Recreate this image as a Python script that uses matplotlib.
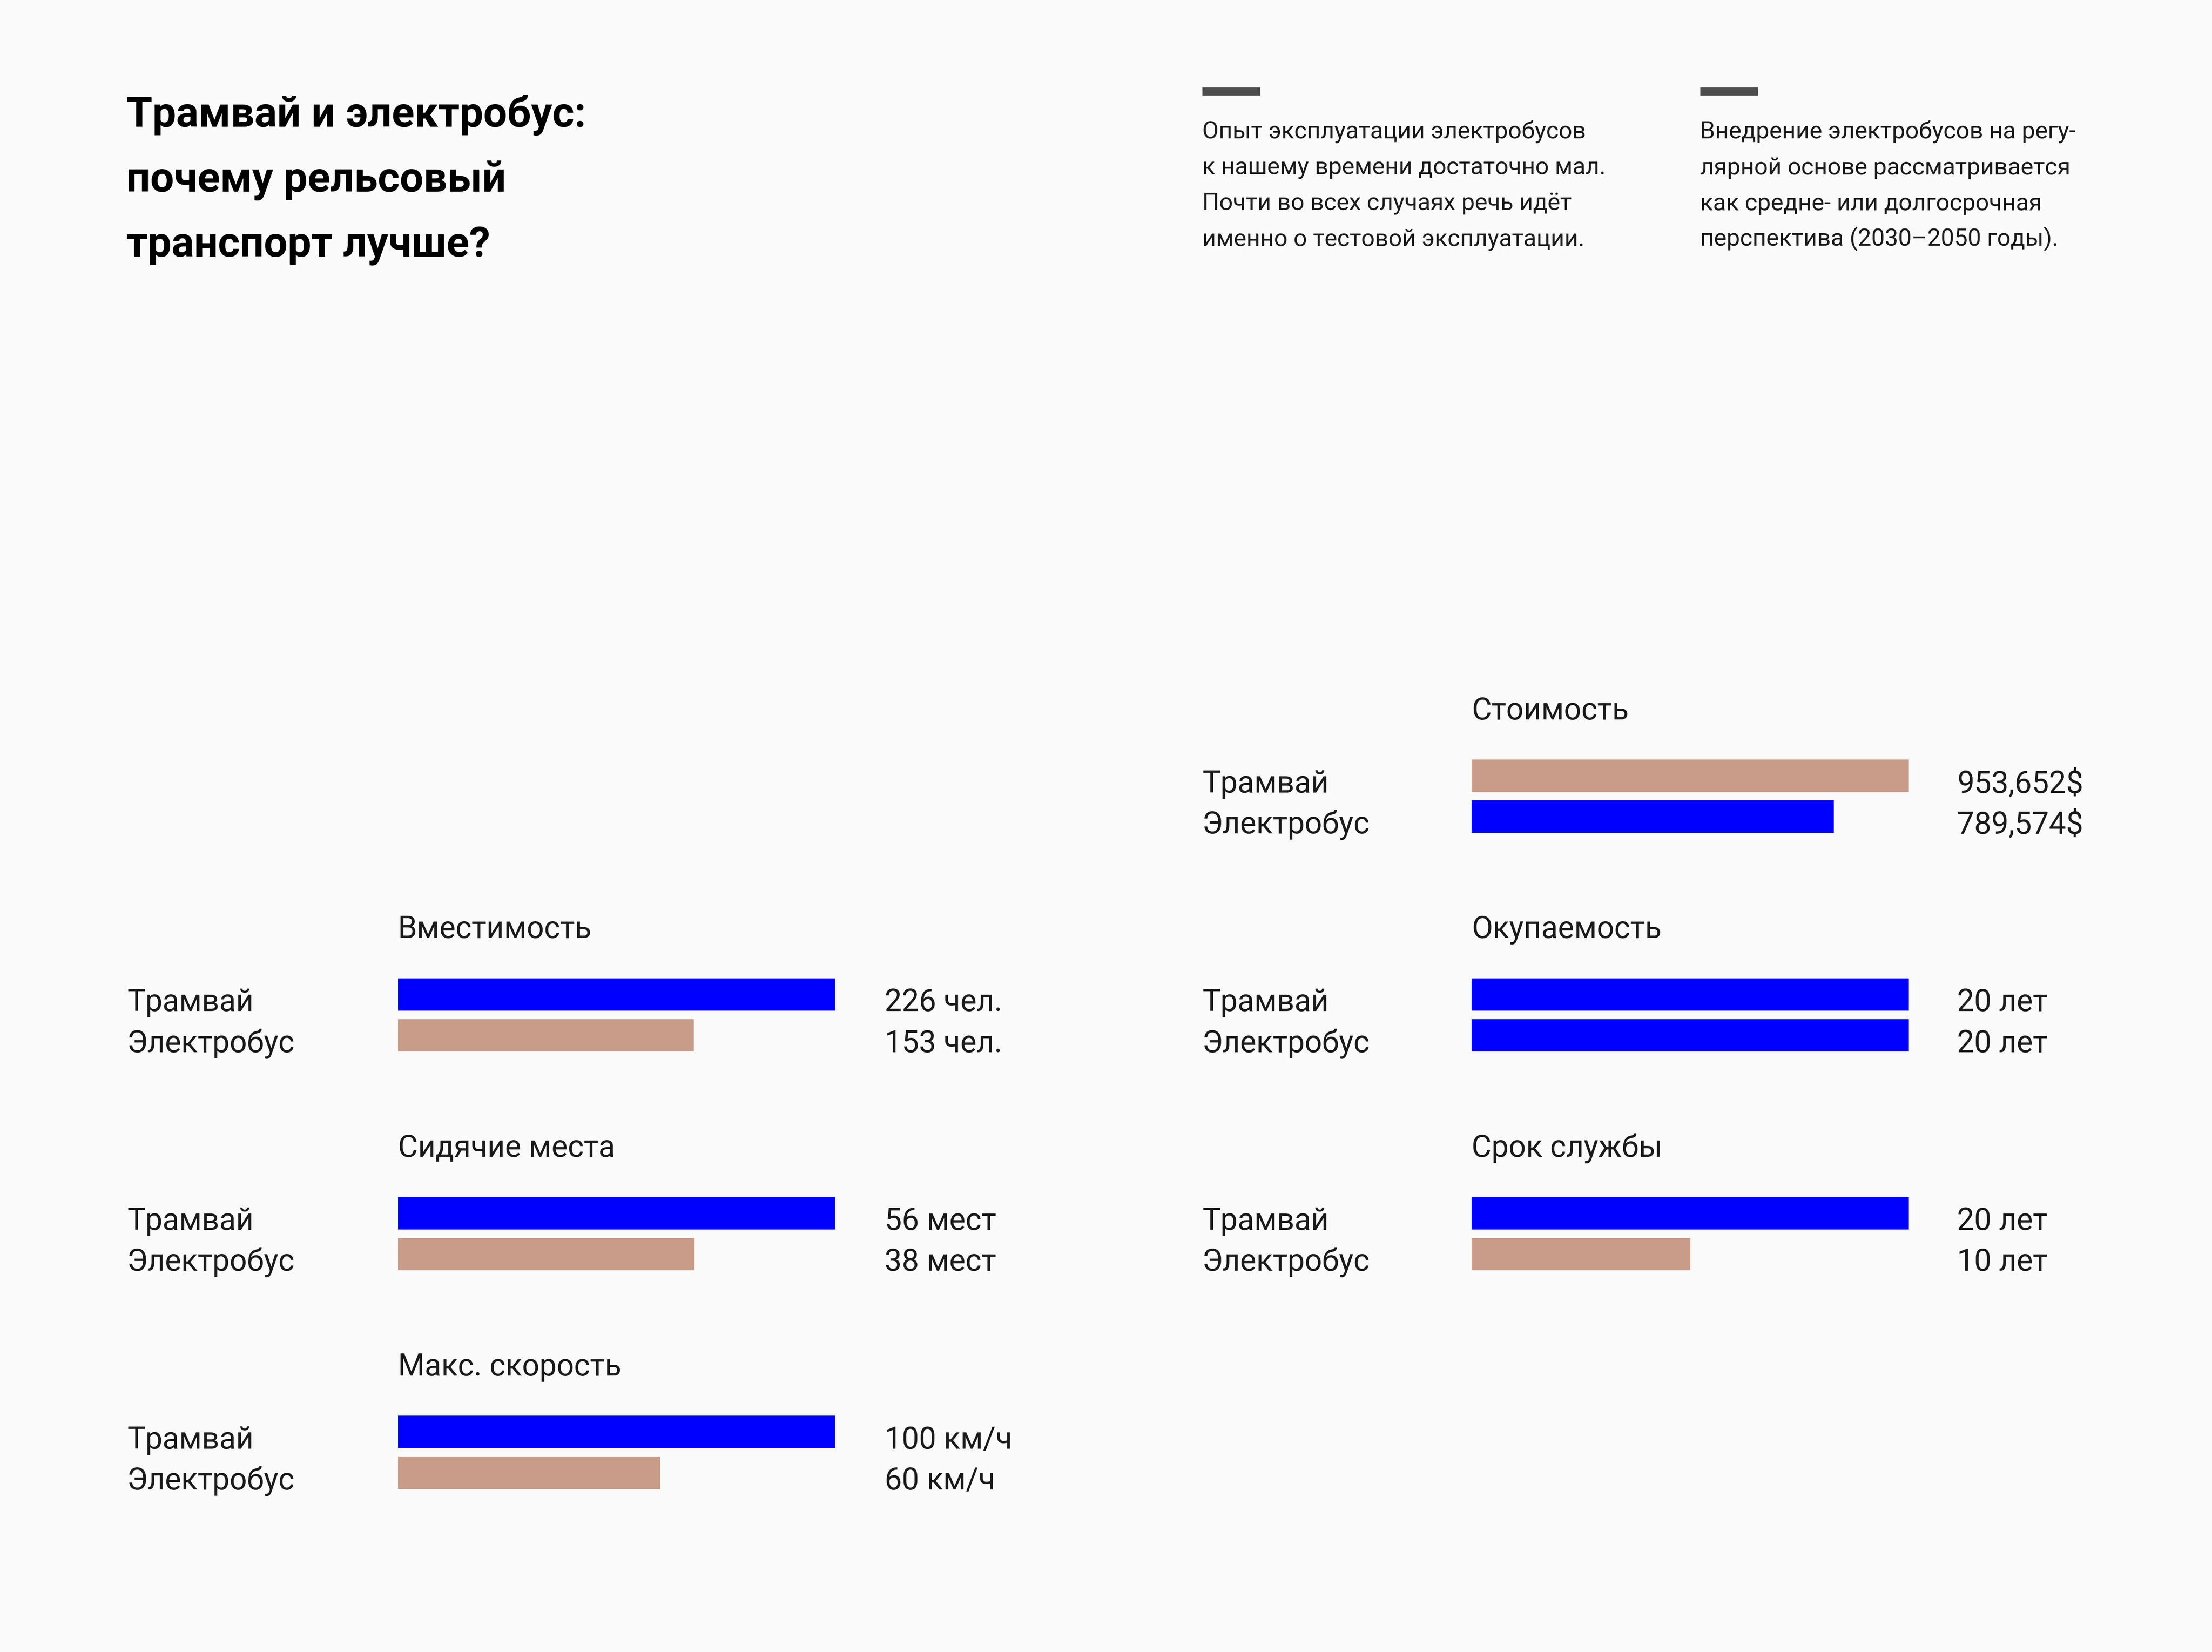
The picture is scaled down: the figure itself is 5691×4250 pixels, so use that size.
import matplotlib.pyplot as plt
from matplotlib.transforms import blended_transform_factory
from matplotlib.lines import Line2D

plt.rcParams['font.family'] = ['Roboto', 'DejaVu Sans']

# данные
metrics = ['Вместимость', 'Сидячие места', 'Макс. скорость',
           'Стоимость', 'Окупаемость', 'Срок службы']
tram_values = [226, 56, 100, 953652, 20, 20]
bus_values = [153, 38, 60, 789574, 20, 10]
tram_labels = ['226 чел.', '56 мест', '100 км/ч', '953,652$', '20 лет', '20 лет']
bus_labels = ['153 чел.', '38 мест', '60 км/ч', '789,574$', '20 лет', '10 лет']
tram_better = [True, True, True, False, True, True]
bus_better = [False, False, False, True, True, False]
row_names = ['Трамвай', 'Электробус']

title_lines = ['Трамвай и электробус:', 'почему рельсовый', 'транспорт лучше?']
note_1 = ['Опыт эксплуатации электробусов',
          'к нашему времени достаточно мал.',
          'Почти во всех случаях речь идёт',
          'именно о тестовой эксплуатации.']
note_2 = ['Внедрение электробусов на регу-',
          'лярной основе рассматривается',
          'как средне- или долгосрочная',
          'перспектива (2030–2050 годы).']

# раскладка (в пикселях превью 1568 x 1171)
W, H = 1568, 1170.8
col = [0, 0, 0, 1, 1, 1]
slot = [1, 2, 3, 0, 1, 2]
label_x = [90, 852]
bar_x = [282, 1043]
bar_w = 310
value_x = [627, 1387]
first_top = 538.3
step = 155
pitch = 29.0
bar_h = 23 / pitch

BLUE = '#0000FF'
TAN = '#C99C89'
TEXT = '#1A1A1A'
BG = '#FAFAFA'


def fx(x):
    return x / W


def fy(y):
    return 1 - y / H


fig = plt.figure(figsize=(15.68, 11.708), dpi=363, facecolor=BG)

# заголовок
for i, line in enumerate(title_lines):
    fig.text(fx(89.5), fy(89.8 + 46 * i), line, fontsize=21.5, fontweight='bold',
             color='black', va='baseline', ha='left')

# заметки
for nx, note in zip([852, 1205], [note_1, note_2]):
    fig.add_artist(Line2D([fx(nx), fx(nx + 41)], [fy(64.8), fy(64.8)],
                          transform=fig.transFigure, color='#4D4D4D', lw=4.1,
                          solid_capstyle='butt'))
    for i, line in enumerate(note):
        fig.text(fx(nx), fy(98.3 + 25.3 * i), line, fontsize=12.2,
                 color=TEXT, va='baseline', ha='left')

# группы
for k, name in enumerate(metrics):
    c = col[k]
    top = first_top + step * slot[k]
    ax_top = top - 3
    ax_h = 2 * pitch
    ax = fig.add_axes([fx(bar_x[c]), fy(ax_top + ax_h), bar_w / W, ax_h / H])
    ax.set_facecolor('none')
    vals = [tram_values[k], bus_values[k]]
    best = [tram_better[k], bus_better[k]]
    colors = [BLUE if b else TAN for b in best]
    ax.barh([0, 1], vals, height=bar_h, color=colors, linewidth=0)
    ax.set_xlim(0, max(vals))
    ax.set_ylim(1.5, -0.5)
    ax.axis('off')

    # название группы над столбиками
    ax.text(0, -0.5 - 25.5 / pitch, name,
            transform=blended_transform_factory(ax.transAxes, ax.transData),
            fontsize=15.6, color=TEXT, va='baseline', ha='left')

    # подписи строк и значения
    tr = blended_transform_factory(fig.transFigure, ax.transData)
    texts = [tram_labels[k], bus_labels[k]]
    for i in range(2):
        yb = i + 11.8 / pitch
        ax.text(fx(label_x[c]), yb, row_names[i], transform=tr,
                fontsize=15.6, color=TEXT, va='baseline', ha='left')
        ax.text(fx(value_x[c]), yb, texts[i], transform=tr,
                fontsize=15.6, color=TEXT, va='baseline', ha='left')

fig.savefig('out.png', dpi=363, facecolor=BG)
